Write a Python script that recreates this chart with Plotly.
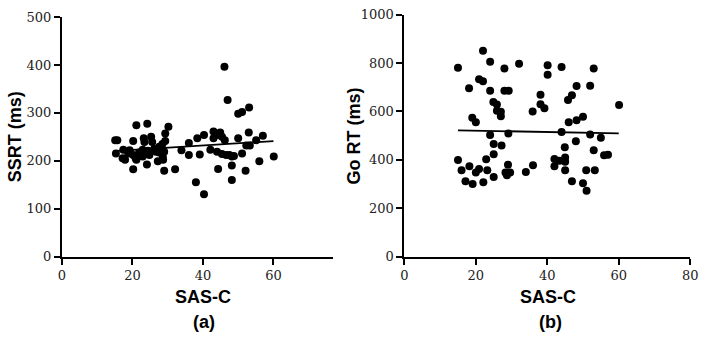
import plotly.graph_objects as go

# Panel (a): SAS-C vs SSRT (ms)
sas_a = [46.1, 47.0, 50.0, 51.1, 53.1,
         21.1, 24.2, 30.2, 29.3,
         15.1, 15.7, 20.2, 23.2, 23.4, 25.3, 25.6, 28.5, 29.3, 27.6,
         15.3, 17.4, 18.8, 19.2, 17.9, 17.2, 20.2, 20.9, 21.9, 22.9, 24.4, 26.2, 26.7,
         27.6, 28.4, 29.0, 28.6, 22.9, 21.1, 24.8, 27.2, 28.7,
         20.2, 24.1, 29.0, 32.1, 33.9, 36.0, 36.0, 38.0,
         38.4, 40.3, 43.0, 44.9, 44.0, 43.0, 45.4, 46.2, 50.0, 53.0, 55.1, 57.0,
         52.3, 53.3, 39.1, 42.1, 44.0, 45.4, 46.6, 47.5, 48.2, 48.8, 51.1, 60.1,
         56.0, 44.3, 48.2, 52.1, 48.2, 40.3]
ssrt = [396, 327, 298, 302, 311,
        274, 277, 271, 257,
        243, 243, 241, 247, 239, 250, 239, 235, 241, 229,
        215, 223, 215, 222, 202, 205, 212, 205, 217, 223, 221, 225, 219,
        217, 223, 219, 209, 209, 202, 212, 199, 202,
        182, 192, 179, 182, 222, 237, 212, 155,
        247, 254, 261, 259, 254, 247, 250, 243, 247, 259, 243, 252,
        232, 232, 213, 223, 219, 214, 212, 212, 209, 210, 215, 209,
        199, 183, 190, 179, 160, 130]
fit_a_x = [14.5, 60.0]
fit_a_y = [220, 241]

# Panel (b): SAS-C vs Go RT (ms)
sas_b = [15.0, 18.1, 22.0, 20.9, 22.0, 24.0, 24.0, 28.0, 28.0, 29.2,
         32.1, 24.9, 25.9, 25.9, 27.0, 27.0, 19.0, 20.0, 24.0, 29.1,
         25.0, 27.2, 25.0, 15.0, 22.9, 35.9, 38.1, 39.2, 38.1, 40.1,
         40.1, 44.0, 45.8, 46.9, 48.2, 46.0, 48.2, 50.0, 44.0, 44.9,
         48.0, 52.0, 53.0, 52.0, 55.0, 53.0, 55.9, 57.0, 60.1,
         18.2, 16.0, 20.0, 20.9, 23.2, 29.0, 28.3, 29.6, 28.7, 25.0,
         17.1, 19.1, 22.1, 34.0, 36.0, 42.0, 43.4, 45.0, 45.0, 42.0,
         45.0, 50.9, 53.3, 46.9, 50.0, 51.0]
gort = [781, 696, 851, 733, 725, 805, 685, 777, 685, 685,
        797, 639, 629, 603, 599, 580, 574, 555, 502, 509,
        465, 459, 423, 399, 402, 600, 630, 613, 669, 791,
        752, 784, 647, 667, 705, 555, 563, 578, 515, 452,
        477, 706, 777, 505, 491, 439, 419, 421, 626,
        373, 357, 347, 362, 357, 380, 347, 347, 336, 329,
        311, 300, 307, 350, 377, 403, 396, 409, 392, 373,
        357, 357, 357, 311, 303, 272]
fit_b_x = [15.0, 60.0]
fit_b_y = [522, 509]

fig = go.Figure()
mk = dict(color="black", size=8)
fig.add_trace(go.Scatter(x=sas_a, y=ssrt, mode="markers", marker=mk,
                         xaxis="x", yaxis="y", showlegend=False))
fig.add_trace(go.Scatter(x=fit_a_x, y=fit_a_y, mode="lines",
                         line=dict(color="black", width=1.8),
                         xaxis="x", yaxis="y", showlegend=False))
fig.add_trace(go.Scatter(x=sas_b, y=gort, mode="markers", marker=mk,
                         xaxis="x2", yaxis="y2", showlegend=False))
fig.add_trace(go.Scatter(x=fit_b_x, y=fit_b_y, mode="lines",
                         line=dict(color="black", width=1.8),
                         xaxis="x2", yaxis="y2", showlegend=False))

tickfont = dict(family="DejaVu Serif, Liberation Serif, serif", size=13, color="#222")
axcommon = dict(showline=True, linecolor="black", linewidth=2, ticks="outside",
                ticklen=6, tickwidth=2, tickcolor="black", showgrid=False,
                zeroline=False, tickfont=tickfont, fixedrange=True)

W, H = 708, 342
fig.update_layout(
    width=W, height=H,
    margin=dict(l=0, r=0, t=0, b=0),
    paper_bgcolor="white", plot_bgcolor="white",
    xaxis=dict(domain=[59 / W, 335 / W], range=[0, 77], tickvals=[0, 20, 40, 60],
               anchor="y", **axcommon),
    yaxis=dict(domain=[1 - 261 / H, 1 - 10.5 / H], range=[0, 500], dtick=100,
               anchor="x", **axcommon),
    xaxis2=dict(domain=[407.3 / W, 698 / W], range=[0, 80], dtick=20,
                anchor="y2", **axcommon),
    yaxis2=dict(domain=[1 - 261 / H, 1 - 8 / H], range=[0, 1000], dtick=200,
                anchor="x2", **axcommon),
)

tf = dict(family="Liberation Sans", size=18, color="black")
def ann(text, x, y, angle=0):
    fig.add_annotation(text="<b>%s</b>" % text, x=x / W, y=1 - y / H,
                       xref="paper", yref="paper", showarrow=False,
                       xanchor="center", yanchor="middle", textangle=angle, font=tf)

ann("SAS-C", 202, 303.5)
ann("(a)", 203, 329)
ann("SAS-C", 553, 303.5)
ann("(b)", 555.5, 329)
ann("SSRT (ms)", 11, 135.5, -90)
ann("Go RT (ms)", 356, 134.5, -90)

fig.write_html("out.html",
               config={"displayModeBar": False},
               post_script="document.body.style.margin='0';"
                           "document.body.style.overflow='hidden';")
